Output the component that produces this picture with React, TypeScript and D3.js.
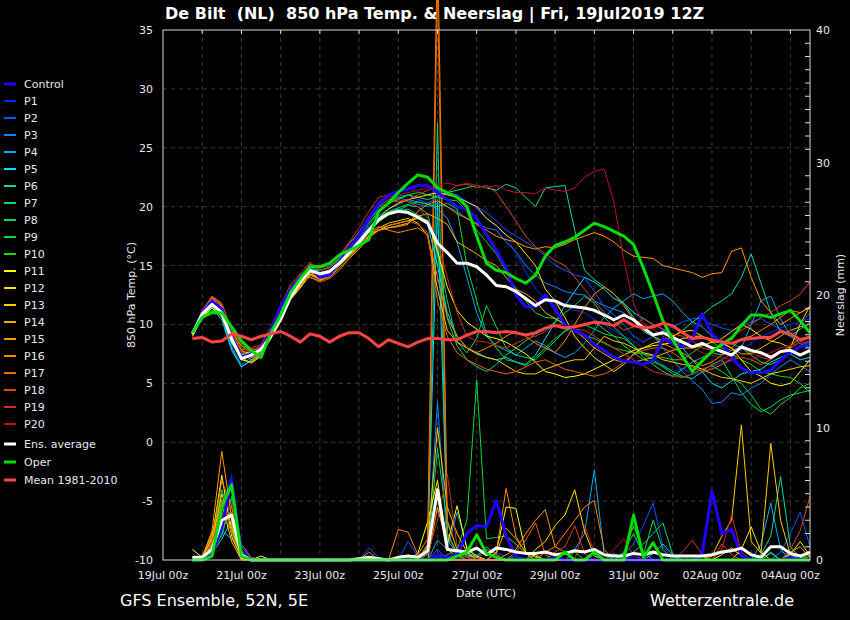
import * as d3 from "d3";

// hours after 19Jul 00z, 6-hourly from 19Jul 18z to 04Aug 12z
const hours = d3.range(18, 397, 6);
const dayHours = d3.range(24, 396, 24);
const labelHours = d3.range(0, 397, 48);
const dateLabels = ["19Jul 00z", "21Jul 00z", "23Jul 00z", "25Jul 00z", "27Jul 00z", "29Jul 00z", "31Jul 00z", "02Aug 00z", "04Aug 00z"];
const tempTicks = [-10, -5, 0, 5, 10, 15, 20, 25, 30, 35];
const rainTicks = [0, 10, 20, 30, 40];

const memberNames = ["Control", "P1", "P2", "P3", "P4", "P5", "P6", "P7", "P8", "P9", "P10", "P11", "P12", "P13", "P14", "P15", "P16", "P17", "P18", "P19", "P20"];
const memberColors = ["#2200ff", "#0028ff", "#0058ff", "#0088ff", "#00acf0", "#00dcff", "#00dc9c", "#00d878", "#00d858", "#00dc34", "#14dc00", "#ffff00", "#ffe000", "#ffcc00", "#ffaa00", "#ff9800", "#ff8400", "#ee6400", "#dd4414", "#cc3020", "#b81420"];

// 850 hPa temperature (°C)
const tempControl = [9.2, 11.0, 12.0, 11.3, 9.0, 7.2, 7.5, 7.9, 9.5, 11.5, 13.0, 14.0, 14.8, 14.0, 14.2, 15.3, 16.5, 17.5, 19.0, 20.2, 21.0, 21.3, 21.5, 21.8, 21.8, 21.2, 20.6, 20.0, 19.8, 19.0, 17.6, 16.3, 14.8, 12.5, 11.5, 11.5, 12.5, 11.3, 10.0, 9.5, 9.1, 8.3, 7.8, 7.2, 6.9, 6.8, 6.6, 7.0, 8.8, 8.4, 8.1, 8.7, 10.9, 9.2, 8.4, 7.2, 6.3, 5.9, 5.9, 6.1, 7.0, 7.6, 8.1, 8.4];
const tempP1 = [9.1, 11.0, 12.1, 11.3, 8.9, 7.0, 7.3, 7.9, 9.6, 11.4, 13.1, 14.2, 15.0, 14.3, 14.5, 15.6, 16.8, 17.9, 19.2, 20.4, 21.0, 21.2, 21.6, 21.3, 21.0, 21.4, 21.0, 20.8, 20.5, 19.8, 19.0, 18.3, 17.5, 16.0, 14.5, 13.0, 12.2, 11.5, 11.8, 11.2, 11.0, 10.4, 10.0, 9.5, 9.0, 8.6, 8.0, 7.2, 6.6, 6.0, 6.3, 5.8, 5.8, 6.4, 6.8, 7.0, 7.8, 8.4, 9.0, 9.3, 9.7, 10.0, 10.2, 10.5];
const tempP2 = [9.3, 10.9, 11.9, 11.2, 8.6, 7.4, 7.8, 8.2, 9.4, 11.1, 12.8, 13.8, 14.8, 14.4, 14.6, 15.4, 16.5, 17.6, 18.8, 19.9, 20.6, 20.9, 21.0, 20.6, 20.3, 20.8, 21.2, 21.0, 20.4, 20.0, 19.5, 18.8, 18.0, 17.5, 17.0, 16.5, 15.8, 15.0, 14.6, 14.2, 14.0, 12.8, 11.5, 10.8, 10.0, 9.0, 8.5, 9.0, 9.5, 9.8, 10.2, 10.5, 10.5, 10.0, 9.7, 9.5, 9.8, 10.2, 10.5, 10.0, 9.6, 9.2, 10.0, 11.0];
const tempP3 = [9.0, 10.6, 11.6, 10.9, 8.2, 6.6, 7.2, 7.8, 9.2, 10.9, 12.6, 13.4, 14.5, 14.6, 14.9, 15.7, 16.6, 17.3, 18.4, 19.6, 20.4, 20.8, 20.5, 20.2, 20.0, 20.3, 20.0, 19.6, 19.0, 18.6, 18.2, 18.0, 17.0, 16.2, 15.0, 14.2, 13.5, 13.2, 12.8, 12.6, 12.5, 12.0, 11.6, 11.3, 11.0, 10.3, 9.8, 9.0, 8.0, 7.0, 6.0, 5.2, 4.5, 3.3, 3.4, 4.2, 4.0, 4.6, 5.0, 5.8, 6.4, 7.0, 6.5, 6.0];
const tempP4 = [9.2, 10.7, 11.5, 10.6, 8.0, 6.4, 7.0, 7.7, 9.0, 10.7, 12.4, 13.6, 14.9, 14.8, 15.0, 15.5, 16.3, 17.2, 18.2, 19.2, 19.8, 20.2, 20.6, 20.4, 20.2, 19.8, 19.0, 17.0, 14.0, 11.0, 9.0, 8.2, 7.8, 7.4, 8.0, 8.6, 8.2, 7.6, 7.2, 7.6, 8.4, 9.5, 10.6, 11.4, 12.0, 12.6, 12.2, 12.4, 12.6, 12.0, 11.0, 10.2, 9.8, 9.0, 8.6, 8.4, 8.0, 10.0, 12.0, 12.4, 10.5, 9.0, 8.4, 8.0];
const tempP5 = [9.1, 10.6, 11.4, 10.4, 7.8, 6.4, 6.9, 7.6, 9.1, 10.8, 12.2, 13.2, 14.2, 14.0, 14.4, 15.1, 16.0, 16.8, 17.8, 18.9, 19.5, 19.8, 19.6, 19.2, 18.5, 15.0, 11.0, 9.0, 8.0, 7.6, 7.2, 7.0, 7.2, 6.8, 6.6, 7.4, 8.8, 10.2, 11.6, 12.8, 14.0, 13.6, 13.0, 12.2, 11.8, 11.0, 10.5, 10.0, 9.6, 9.0, 8.0, 7.0, 6.0, 5.0, 4.6, 5.2, 5.8, 6.0, 6.2, 6.8, 7.2, 7.5, 7.0, 7.2];
const tempP6 = [9.3, 10.9, 11.7, 11.1, 8.8, 7.6, 7.6, 8.1, 9.5, 11.2, 12.9, 13.9, 15.1, 14.9, 15.2, 15.9, 16.9, 17.8, 18.9, 19.7, 20.3, 20.6, 21.0, 20.8, 20.6, 20.9, 21.2, 21.4, 21.6, 21.8, 21.6, 21.4, 21.9, 21.6, 20.8, 20.0, 21.6, 21.7, 21.8, 18.0, 14.6, 13.8, 13.2, 12.6, 11.8, 10.6, 9.4, 9.0, 8.6, 9.0, 9.5, 10.2, 10.8, 11.5, 12.0, 12.6, 14.0, 16.0, 13.5, 11.0, 9.4, 9.0, 9.6, 10.2];
const tempP7 = [9.2, 10.8, 11.6, 10.8, 8.4, 7.2, 7.4, 7.9, 9.4, 11.0, 12.6, 13.5, 14.6, 14.2, 14.3, 15.0, 15.9, 16.9, 17.9, 18.8, 19.4, 19.7, 20.1, 20.0, 19.4, 16.0, 10.5, 8.2, 7.0, 6.4, 6.0, 6.6, 7.4, 8.0, 8.6, 9.2, 9.6, 10.2, 11.0, 11.6, 12.4, 11.8, 10.6, 9.8, 9.0, 8.2, 7.2, 6.6, 6.0, 5.6, 6.2, 6.8, 7.2, 7.6, 7.4, 7.8, 8.0, 7.4, 6.8, 6.6, 7.0, 7.6, 8.2, 8.6];
const tempP8 = [9.1, 10.8, 11.5, 10.9, 8.8, 7.4, 7.6, 7.8, 9.2, 10.9, 12.5, 13.4, 14.5, 14.1, 14.4, 15.2, 16.1, 16.9, 17.8, 18.7, 19.3, 19.6, 19.8, 19.3, 18.8, 16.5, 12.0, 8.5, 7.6, 8.8, 11.6, 9.8, 8.0, 7.4, 7.2, 7.0, 7.8, 8.6, 9.5, 9.8, 10.0, 10.2, 9.6, 9.0, 8.2, 7.6, 7.0, 6.8, 6.5, 6.0, 5.6, 5.4, 6.0, 6.6, 7.0, 5.6, 4.2, 3.2, 2.6, 3.0, 3.6, 4.0, 4.2, 4.4];
const tempP9 = [9.3, 10.7, 11.2, 10.9, 9.0, 7.9, 7.8, 8.0, 9.5, 11.1, 12.8, 13.7, 14.7, 14.4, 14.6, 15.4, 16.3, 17.0, 18.0, 19.0, 19.6, 19.9, 20.2, 20.4, 20.2, 20.0, 20.3, 19.8, 15.0, 12.0, 9.2, 8.0, 7.0, 6.8, 6.5, 7.2, 8.0, 8.8, 9.4, 9.8, 10.0, 9.6, 9.2, 9.0, 8.8, 8.2, 7.5, 7.0, 6.4, 5.8, 5.5, 5.8, 6.2, 6.5, 6.0, 5.4, 5.0, 4.0, 2.8, 2.4, 3.2, 3.8, 4.6, 5.0];
const tempP10 = [9.0, 10.5, 11.1, 11.0, 9.2, 8.2, 7.9, 7.7, 9.0, 10.6, 12.4, 13.5, 14.8, 14.6, 14.8, 15.6, 16.6, 17.5, 18.6, 19.6, 20.3, 20.7, 21.0, 21.2, 21.0, 20.8, 20.6, 20.5, 19.6, 18.0, 17.0, 16.0, 14.5, 13.0, 12.0, 11.0, 10.6, 10.5, 10.0, 9.4, 9.0, 8.8, 8.4, 8.0, 7.8, 7.6, 7.5, 7.3, 7.2, 7.0, 7.0, 7.6, 8.2, 8.5, 8.0, 7.5, 7.0, 6.6, 6.0, 5.8, 5.6, 5.5, 5.0, 4.2];
const tempP11 = [9.0, 10.6, 11.4, 10.7, 8.5, 7.0, 6.8, 7.4, 8.8, 10.4, 12.1, 13.1, 14.2, 13.9, 14.1, 15.0, 15.8, 16.6, 17.4, 18.0, 18.4, 18.6, 18.8, 19.0, 18.8, 16.2, 13.2, 11.2, 10.2, 9.6, 9.0, 8.8, 8.5, 8.0, 7.5, 6.8, 6.0, 5.8, 5.5, 5.6, 5.8, 6.2, 6.6, 7.0, 7.4, 7.8, 8.0, 8.2, 8.3, 8.5, 8.8, 9.0, 9.0, 8.6, 8.4, 8.0, 7.0, 6.0, 5.6, 5.0, 4.8, 5.0, 6.0, 7.0];
const tempP12 = [9.2, 10.9, 11.8, 11.2, 9.0, 7.8, 7.5, 7.8, 9.3, 10.8, 12.5, 13.4, 14.4, 14.2, 14.6, 15.3, 16.2, 17.0, 18.0, 19.0, 19.8, 20.3, 20.6, 20.8, 21.0, 21.2, 21.0, 20.8, 20.4, 20.0, 19.0, 18.4, 17.6, 17.0, 16.0, 15.0, 13.0, 12.0, 10.6, 9.0, 8.0, 7.2, 6.6, 6.0, 6.6, 7.5, 8.0, 8.4, 8.6, 9.0, 9.4, 9.5, 9.0, 8.5, 8.8, 9.4, 10.0, 9.6, 9.0, 8.6, 8.4, 8.0, 10.0, 11.6];
const tempP13 = [9.0, 10.6, 11.6, 11.0, 8.6, 7.2, 6.7, 7.3, 8.9, 10.5, 12.2, 13.3, 14.3, 14.0, 14.2, 15.0, 15.9, 16.6, 17.5, 18.2, 18.6, 18.8, 19.0, 18.6, 17.5, 13.0, 9.5, 8.5, 8.0, 7.5, 7.2, 7.0, 6.5, 6.0, 5.8, 5.8, 6.2, 6.5, 6.8, 7.0, 7.0, 8.0, 9.0, 8.6, 8.4, 8.0, 7.6, 7.4, 7.0, 6.8, 6.6, 6.5, 6.2, 5.8, 5.5, 5.4, 5.2, 5.0, 5.4, 5.8, 6.0, 6.2, 6.4, 6.5];
const tempP14 = [9.1, 10.9, 12.0, 11.4, 9.2, 7.8, 7.2, 7.6, 9.0, 10.6, 12.3, 13.2, 14.2, 13.8, 14.0, 14.8, 15.6, 16.4, 17.4, 18.0, 18.2, 18.4, 18.6, 19.2, 19.4, 19.0, 18.5, 17.0, 16.5, 16.0, 15.4, 15.0, 14.0, 13.0, 12.6, 12.0, 11.0, 10.5, 10.0, 9.5, 8.8, 8.0, 7.5, 7.0, 6.8, 6.8, 7.0, 7.2, 7.5, 7.8, 8.0, 8.0, 8.2, 8.5, 8.5, 8.0, 7.5, 7.5, 8.0, 8.5, 9.0, 9.5, 9.8, 10.0];
const tempP15 = [9.3, 11.2, 12.2, 11.5, 9.0, 7.6, 7.0, 7.4, 9.2, 10.9, 12.8, 13.8, 14.0, 13.7, 14.1, 15.0, 16.0, 16.8, 17.6, 18.0, 18.2, 18.3, 18.5, 19.6, 20.2, 20.5, 20.0, 19.4, 19.0, 18.5, 18.0, 17.5, 17.2, 17.0, 16.6, 16.4, 16.6, 16.5, 16.8, 17.2, 17.5, 17.8, 17.5, 17.0, 16.3, 15.8, 15.7, 15.6, 15.0, 14.8, 14.6, 14.4, 14.0, 14.3, 14.4, 16.2, 16.5, 14.0, 12.0, 11.0, 10.0, 10.5, 11.0, 11.5];
const tempP16 = [9.2, 11.0, 12.3, 11.6, 9.4, 8.2, 7.6, 7.8, 9.3, 11.2, 13.0, 13.9, 14.2, 13.9, 14.2, 15.0, 16.0, 16.9, 17.8, 18.3, 18.0, 17.8, 18.0, 18.2, 17.6, 14.0, 10.6, 9.0, 8.0, 7.6, 8.0, 8.4, 9.0, 9.4, 9.0, 8.4, 8.0, 7.6, 8.6, 10.0, 11.4, 12.6, 13.2, 12.6, 11.6, 10.4, 9.6, 9.0, 8.4, 8.0, 7.6, 7.0, 6.5, 6.8, 7.4, 8.0, 8.8, 9.0, 9.5, 10.0, 10.6, 11.2, 11.0, 11.4];
const tempP17 = [9.0, 11.1, 12.4, 11.8, 9.5, 8.4, 7.9, 7.9, 9.4, 11.3, 12.9, 13.6, 14.0, 13.6, 13.9, 14.6, 15.6, 16.6, 17.6, 18.2, 18.4, 18.6, 18.8, 18.5, 17.8, 12.0, 9.0, 7.6, 7.0, 6.6, 6.2, 6.0, 5.8, 6.0, 6.4, 6.8, 7.0, 6.6, 6.2, 6.0, 5.8, 5.6, 5.8, 6.2, 6.8, 7.4, 7.8, 8.0, 8.0, 7.6, 7.0, 6.4, 6.0, 6.2, 6.6, 7.0, 7.2, 7.0, 6.6, 7.0, 7.6, 8.2, 8.8, 9.0];
const tempP18 = [9.4, 11.2, 12.4, 11.7, 9.3, 8.0, 7.7, 8.1, 9.6, 11.5, 13.2, 14.2, 14.8, 14.0, 14.2, 15.1, 16.2, 17.4, 18.8, 20.0, 20.6, 20.4, 20.6, 21.0, 21.4, 21.6, 21.2, 21.8, 21.9, 21.6, 21.8, 21.2, 20.0, 18.8, 17.5, 16.6, 16.0, 15.4, 15.0, 14.0, 13.0, 12.0, 11.0, 10.2, 9.5, 9.8, 10.5, 10.0, 9.6, 9.2, 9.0, 8.6, 8.0, 7.8, 8.4, 9.0, 9.5, 10.0, 10.6, 11.0, 11.6, 12.0, 12.6, 13.6];
const tempP19 = [9.2, 10.8, 12.1, 11.4, 9.0, 7.8, 8.0, 8.3, 9.8, 11.6, 13.4, 14.3, 15.3, 14.6, 14.8, 15.8, 17.0, 18.2, 19.6, 20.8, 21.0, 20.6, 20.4, 20.0, 19.0, 17.0, 14.0, 11.0, 9.0, 8.6, 8.5, 8.2, 8.0, 8.4, 8.8, 9.0, 9.4, 10.0, 10.0, 9.6, 9.5, 9.0, 8.5, 8.0, 7.5, 7.0, 6.5, 6.0, 5.8, 5.6, 5.5, 5.8, 6.2, 6.5, 7.0, 7.5, 8.0, 7.6, 7.2, 7.0, 7.6, 8.0, 8.5, 9.0];
const tempP20 = [9.3, 11.0, 12.0, 11.3, 9.0, 7.6, 7.8, 8.2, 9.6, 11.3, 13.0, 14.0, 15.2, 14.8, 15.0, 15.8, 16.8, 17.8, 19.0, 20.2, 20.8, 21.0, 21.2, 21.4, 21.6, 21.8, 22.0, 21.8, 22.0, 21.8, 21.6, 21.8, 21.4, 21.2, 21.2, 21.1, 21.6, 21.4, 21.3, 21.6, 22.5, 23.0, 23.2, 20.4, 15.5, 11.8, 10.0, 9.6, 9.0, 8.6, 8.4, 8.0, 7.6, 7.4, 7.2, 7.0, 7.2, 7.0, 7.4, 7.6, 8.0, 8.2, 8.4, 8.6];
const tempAverage = [9.2, 10.9, 11.7, 11.0, 8.8, 7.1, 7.4, 7.9, 9.0, 10.4, 12.3, 13.6, 14.6, 14.3, 14.5, 15.2, 16.1, 17.0, 18.0, 18.9, 19.4, 19.6, 19.5, 19.1, 18.6, 16.9, 16.1, 15.2, 15.2, 14.9, 14.2, 13.3, 13.2, 12.8, 12.2, 11.6, 12.1, 12.0, 11.6, 11.5, 11.4, 11.2, 10.8, 10.4, 10.8, 10.4, 9.7, 9.1, 9.3, 8.9, 8.5, 8.1, 8.4, 8.0, 7.7, 7.4, 8.1, 7.8, 7.6, 7.2, 7.7, 7.8, 7.4, 7.8];
const tempOper = [9.3, 10.6, 11.0, 11.0, 9.8, 8.6, 7.8, 7.2, 9.3, 10.8, 12.7, 13.9, 14.9, 14.9, 15.2, 15.9, 16.3, 16.7, 17.2, 19.6, 20.3, 21.2, 22.0, 22.7, 22.5, 21.6, 21.2, 20.8, 20.0, 17.5, 15.2, 14.6, 14.4, 13.9, 13.5, 14.2, 15.8, 16.7, 17.0, 17.4, 18.0, 18.6, 18.3, 17.9, 17.5, 16.8, 14.8, 12.6, 10.3, 8.7, 7.3, 6.0, 6.9, 7.7, 8.3, 8.8, 9.9, 10.8, 10.8, 10.6, 10.9, 11.2, 10.3, 9.3];
const tempClimate = [8.8, 8.9, 8.5, 8.6, 9.2, 9.0, 8.7, 9.0, 9.2, 9.4, 9.0, 8.5, 9.2, 9.0, 8.5, 9.0, 9.3, 9.3, 8.8, 8.1, 8.7, 8.4, 8.1, 8.5, 8.8, 8.8, 8.7, 8.7, 9.1, 9.4, 9.4, 9.3, 9.4, 9.3, 9.1, 9.3, 9.7, 9.9, 9.7, 9.8, 10.0, 10.2, 10.1, 9.9, 10.4, 9.9, 9.7, 9.8, 10.1, 9.9, 9.3, 8.8, 8.9, 8.7, 8.5, 8.4, 8.7, 8.8, 8.9, 8.9, 9.4, 9.2, 8.7, 8.9];

// precipitation per 6 h (mm)
const rainControl = [0, 0, 0.4, 2.5, 6.0, 0.5, 0, 0, 0, 0, 0, 0, 0, 0, 0, 0, 0, 0, 0, 0, 0, 0, 0, 0, 0, 0.3, 0.2, 0.4, 2.0, 2.6, 2.5, 4.5, 1.8, 0.3, 0, 0, 0, 0.2, 0, 0, 0, 0, 0, 0, 0, 0, 0, 0, 0, 0, 0, 0, 0.4, 5.2, 2.0, 2.3, 0.3, 0, 0, 0, 0, 0.2, 0, 0];
const rainP1 = [0, 0.2, 0.6, 4.0, 6.4, 0.8, 0, 0, 0, 0, 0, 0, 0, 0, 0, 0, 0, 0, 0, 0, 0, 0, 0, 0, 0, 0.5, 0.3, 0, 0, 0.4, 0.8, 0.5, 0.3, 0, 0, 0, 0, 0, 0, 0, 0, 0, 0, 0, 0, 0.3, 0, 0, 0, 0, 0, 0, 0, 0, 0, 0, 0, 0, 0, 0, 0.6, 0.4, 0, 0];
const rainP2 = [0, 0, 0.8, 3.0, 4.2, 1.0, 0.1, 0, 0, 0, 0, 0, 0, 0, 0, 0, 0, 0, 0.9, 0.2, 0, 0, 1.4, 0.3, 0, 0.8, 0, 0, 0, 0, 0, 0, 0, 0, 0, 0, 0, 0, 0, 0, 0, 0, 0, 0, 0.4, 1.2, 2.6, 4.3, 1.0, 0.2, 0, 0, 0, 0, 0, 0, 0, 0, 0, 0, 0.6, 2.0, 3.6, 1.0];
const rainP3 = [0.1, 0.3, 1.2, 1.8, 4.6, 1.2, 0.2, 0, 0, 0, 0, 0, 0, 0, 0, 0, 0, 0, 0, 0, 0, 0, 0, 0, 0.4, 12.0, 1.0, 0.4, 0, 0, 0, 0, 0, 0.3, 0, 0, 0, 0, 0, 0, 0, 0, 0, 0.5, 0, 0, 0, 0, 0, 0, 0, 0, 0, 0, 0, 0, 0, 0, 0, 0, 0, 0, 0.4, 0];
const rainP4 = [0, 0.2, 1.0, 2.2, 1.6, 0.6, 0, 0, 0, 0, 0, 0, 0, 0, 0, 0, 0, 0, 0, 0, 0, 0, 0, 0, 0, 1.5, 0.8, 3.6, 1.0, 0.3, 0, 0, 0, 0, 0, 0, 0, 0, 0.5, 0.8, 2.0, 6.8, 0.4, 0, 0, 0, 0, 0, 0, 0, 0, 0, 0, 0, 0, 0, 0, 0, 1.2, 4.3, 0.8, 0, 0, 0];
const rainP5 = [0, 0, 0.5, 1.6, 3.0, 0.4, 0, 0, 0, 0, 0, 0, 0, 0, 0, 0, 0, 0, 0, 0, 0, 0, 0, 0, 0.8, 27.0, 2.0, 0.6, 0.4, 0.2, 0, 0, 0, 0, 0, 0, 0, 0, 0, 0, 0, 0, 0, 0, 0, 0, 0, 0.5, 1.2, 0.4, 0, 0, 0, 0, 0, 0, 0, 0, 0, 0.6, 0, 0, 0, 0];
const rainP6 = [0, 0.1, 0.9, 2.6, 3.6, 0.3, 0, 0, 0, 0, 0, 0, 0, 0, 0, 0, 0, 0, 0, 0, 0, 0, 0, 0, 0, 0, 0, 0.3, 0, 0, 0, 0, 0, 0, 0, 0, 0, 0, 0, 0, 0, 0, 0, 0, 0, 0, 0, 0, 0, 0, 0, 0, 0, 0, 0, 0, 0, 0, 0.4, 1.8, 6.3, 1.0, 0.2, 0];
const rainP7 = [0, 0, 0.6, 3.4, 2.2, 0.2, 0, 0, 0, 0, 0, 0, 0, 0, 0, 0, 0, 0, 0, 0, 0, 0, 0, 0, 1.0, 33.0, 1.5, 0.5, 0.2, 0, 0, 0, 0, 0, 0, 0, 0, 0, 0, 0, 0, 0, 0, 0, 0, 0.6, 1.2, 2.0, 2.8, 0.4, 0, 0, 0, 0, 0, 0, 0, 0, 0, 0, 0, 0, 0, 0];
const rainP8 = [0, 0.2, 1.4, 5.3, 3.0, 0.4, 0, 0, 0, 0, 0, 0, 0, 0, 0, 0, 0, 0, 0, 0, 0, 0, 0, 0, 0.5, 8.4, 2.8, 0.8, 0.5, 0.3, 1.0, 0.4, 0, 0, 0, 0, 0, 0, 0, 0, 0, 0, 0, 0, 0.6, 2.0, 0.4, 3.0, 0.8, 0, 0, 0, 0, 0, 0, 0, 0, 0, 0, 0, 0, 0.5, 0, 0];
const rainP9 = [0, 0, 0.4, 2.0, 4.8, 0.6, 0, 0, 0, 0, 0, 0, 0, 0, 0, 0, 0, 0, 0, 0, 0, 0, 0, 0, 0, 0, 0.4, 0.8, 3.0, 13.6, 1.6, 1.7, 1.8, 1.2, 0.5, 0, 0, 0, 0, 0, 0, 0, 0, 0, 0.5, 2.6, 0.6, 0, 0, 0, 0, 0, 0, 0, 0, 0, 0, 0, 0, 0.5, 0, 0, 0, 0];
const rainP10 = [0, 0.1, 0.8, 4.4, 2.6, 0.2, 0, 0, 0, 0, 0, 0, 0, 0, 0, 0, 0, 0, 0, 0, 0, 0, 0, 0, 0, 0, 0, 0, 0.6, 0.2, 0.8, 0.4, 0, 0, 0, 0.4, 0, 0, 0, 0.6, 0, 0, 0, 0, 0, 0, 0, 0, 0, 0, 0, 0, 0, 0, 0, 0, 0, 0, 0, 0, 0, 0, 0, 0.3, 0];
const rainP11 = [0.8, 0.2, 1.6, 6.4, 1.8, 0.1, 0, 0.3, 0, 0, 0, 0, 0, 0, 0, 0, 0, 0, 0, 0, 0, 0, 0, 0.5, 2.9, 6.0, 1.2, 4.1, 0.8, 0.3, 0, 0.6, 4.0, 3.9, 0.6, 0.3, 0, 0, 0, 0, 0, 0, 0, 0, 0, 0, 0, 0, 0, 0, 0, 0, 0, 0, 0.4, 0.9, 0.3, 0, 0, 0, 0, 0, 0, 0];
const rainP12 = [0.2, 0, 1.2, 5.0, 2.4, 0.3, 0, 0, 0, 0, 0, 0, 0, 0, 0, 0, 0, 0, 0, 0, 0, 0, 0, 0, 0, 0, 0, 0, 0, 0, 0, 0, 0, 0, 0, 0.8, 1.4, 2.6, 3.4, 5.3, 2.2, 0.3, 0, 0, 0, 0, 0, 0, 0, 0, 0, 0, 0, 0, 0, 0, 0.8, 2.5, 0.6, 0, 0, 0.4, 1.4, 0.3];
const rainP13 = [0, 0.3, 2.0, 4.2, 1.4, 0, 0, 0, 0, 0, 0, 0, 0, 0, 0, 0, 0, 0, 0, 0, 0, 0, 0, 0, 1.2, 10.0, 4.0, 2.0, 0.6, 0, 0, 0, 0, 0, 0, 0, 0, 0, 0, 0, 0, 0, 0, 0, 0, 0, 0, 0, 0, 0, 0, 0, 0, 0.3, 1.8, 3.0, 10.2, 1.4, 0.5, 8.8, 3.0, 0.4, 0, 0];
const rainP14 = [0, 0.1, 1.8, 3.6, 2.8, 0.2, 0, 0, 0, 0, 0, 0, 0, 0, 0, 0, 0, 0, 0, 0, 0, 0, 0, 0, 0, 4.0, 1.0, 0, 0, 0, 0, 0.5, 2.4, 1.6, 0.6, 0.2, 0, 0, 0, 0, 0, 0, 0, 0, 0, 0, 0, 0, 0, 0, 0, 0, 0.3, 0, 0, 0, 0, 0, 0, 0, 0, 0.6, 1.0, 0.2];
const rainP15 = [0, 0.2, 2.2, 8.2, 3.2, 0.4, 0, 0, 0, 0, 0, 0, 0, 0, 0, 0, 0, 0, 0, 0, 0, 0, 0, 0, 0, 0, 0, 0, 0, 0, 0, 0, 0.4, 0.8, 2.0, 3.0, 3.8, 1.0, 0.6, 0, 0, 0, 0, 0, 0, 0, 0, 0, 0, 0, 0, 0, 0, 0, 0, 0, 0, 0, 0, 0, 0, 0, 0, 0];
const rainP16 = [0, 0, 1.5, 6.0, 4.0, 0.6, 0, 0, 0, 0, 0, 0, 0, 0, 0, 0, 0, 0, 0.6, 0, 0, 2.3, 2.1, 0.4, 1.6, 47.0, 3.0, 0.8, 0.3, 0.2, 0, 0.6, 5.4, 1.8, 0.5, 0, 0.6, 1.0, 2.0, 3.0, 4.0, 4.5, 0.8, 0, 0, 0, 0, 0, 0, 0, 0, 0, 0, 0, 0, 0, 0, 0, 0, 0, 0, 0, 0, 0];
const rainP17 = [0, 0.2, 1.0, 4.6, 2.0, 0.3, 0, 0, 0, 0, 0, 0, 0, 0, 0, 0, 0, 0, 0, 0, 0, 0, 0, 0, 0.6, 43.0, 2.0, 0.4, 0, 0, 0, 0, 0, 0.6, 1.5, 2.8, 0.4, 0, 0, 0, 0, 0, 0, 0, 0, 0, 0, 0, 0, 0, 0, 0, 0, 0, 0, 0, 0, 0, 0, 0, 0, 0, 0, 0.5];
const rainP18 = [0, 0, 1.4, 3.4, 3.6, 0.5, 0, 0, 0, 0, 0, 0, 0, 0, 0, 0, 0, 0, 0, 0, 0, 0, 0, 0, 0, 0, 0, 0, 0, 0, 0, 0, 0, 0, 0, 0, 0, 0.6, 1.0, 2.6, 0.5, 0, 0, 0, 0, 0, 0, 0, 0, 0, 0, 0, 0.4, 0, 1.2, 0.4, 0, 0, 0, 0, 0, 0.8, 2.2, 4.8];
const rainP19 = [0, 0.1, 0.7, 2.8, 3.0, 1.0, 0.2, 0, 0, 0, 0, 0, 0, 0, 0, 0, 0, 0, 0, 0, 0, 0, 0, 0, 0.4, 3.0, 6.5, 1.0, 0.2, 0, 0.8, 0.4, 0, 0, 0, 0, 0, 0, 0, 0, 2.6, 0.6, 0, 0, 0, 0, 0, 0, 0, 0, 0.6, 1.5, 0.4, 0, 0.8, 3.4, 0.6, 0, 0, 0, 0, 0, 0, 0];
const rainP20 = [0, 0, 0.5, 2.4, 4.4, 0.7, 0, 0, 0, 0, 0, 0, 0, 0, 0, 0, 0, 0, 0, 0, 0, 0, 0, 0, 0, 0, 0, 0, 0, 0, 0, 0, 0, 0, 0, 0, 0, 0, 0, 0, 0, 0, 0, 0.8, 1.6, 0.4, 0, 0, 0, 0, 0, 0, 0, 0, 0, 0, 0, 0, 0, 0, 0, 0, 0, 0];
const rainAverage = [0.2, 0.2, 0.8, 3.0, 3.4, 0.4, 0, 0, 0, 0, 0, 0, 0, 0, 0, 0, 0, 0.1, 0.2, 0.1, 0, 0.2, 0.3, 0.2, 0.7, 5.3, 0.8, 0.7, 0.6, 0.9, 0.4, 0.9, 0.8, 0.6, 0.5, 0.5, 0.6, 0.4, 0.5, 0.7, 0.6, 0.8, 0.4, 0.3, 0.3, 0.5, 0.4, 0.6, 0.4, 0.3, 0.3, 0.3, 0.3, 0.4, 0.6, 0.7, 0.9, 0.4, 0.2, 1.0, 1.0, 0.5, 0.3, 0.6];
const rainOper = [0, 0, 0.3, 4.0, 5.7, 0.3, 0, 0, 0, 0, 0, 0, 0, 0, 0, 0, 0, 0, 0, 0, 0, 0, 0, 0, 0, 0, 0, 0.3, 0.6, 1.9, 0.5, 0.2, 0, 0, 0, 0, 0, 0, 0.6, 0, 0, 0.6, 0, 0, 0, 3.4, 0.2, 1.3, 0, 0, 0, 0, 0, 0, 0, 0, 0, 0, 0, 0, 0, 0, 0, 0];

const tempMembers = [tempControl, tempP1, tempP2, tempP3, tempP4, tempP5, tempP6, tempP7, tempP8, tempP9, tempP10, tempP11, tempP12, tempP13, tempP14, tempP15, tempP16, tempP17, tempP18, tempP19, tempP20];
const rainMembers = [rainControl, rainP1, rainP2, rainP3, rainP4, rainP5, rainP6, rainP7, rainP8, rainP9, rainP10, rainP11, rainP12, rainP13, rainP14, rainP15, rainP16, rainP17, rainP18, rainP19, rainP20];

const width = 850;
const height = 620;
const marginLeft = 163;
const marginRight = 40;
const marginTop = 30;
const marginBottom = 60;
const font = "DejaVu Sans, Verdana, sans-serif";

export default function App() {
  const x = d3.scaleLinear([0, 396], [marginLeft, width - marginRight]);
  const yT = d3.scaleLinear([-10, 35], [height - marginBottom, marginTop]);
  const yP = d3.scaleLinear([0, 40], [height - marginBottom, marginTop]);
  const lineT = d3.line<number>((d, i) => x(hours[i]), (d) => yT(d));
  const lineP = d3.line<number>((d, i) => x(hours[i]), (d) => yP(d));
  const x0 = x.range()[0], x1 = x.range()[1];
  const y0 = yT.range()[0], y1 = yT.range()[1];

  const legendRows = [
    ...memberNames.map((n, i) => ({ name: n, color: memberColors[i], thick: i === 0, y: 84 + i * 17 })),
    { name: "Ens. average", color: "#ffffff", thick: true, y: 444 },
    { name: "Oper", color: "#00dd00", thick: true, y: 462 },
    { name: "Mean 1981-2010", color: "#ff4444", thick: true, y: 480 },
  ];

  return (
    <svg width={width} height={height} style={{ position: "absolute", left: 0, top: 0, fontFamily: font }}>
      <rect width={width} height={height} fill="#000" />

      {/* grid */}
      <g stroke="#3a3a3a" strokeDasharray="4,4" strokeWidth={1}>
        {dayHours.map((h) => (
          <line key={"v" + h} x1={x(h)} x2={x(h)} y1={y1} y2={y0} />
        ))}
        {tempTicks.slice(1, -1).map((t) => (
          <line key={"h" + t} x1={x0} x2={x1} y1={yT(t)} y2={yT(t)} />
        ))}
      </g>

      {/* precipitation */}
      <g fill="none" strokeLinejoin="round">
        {rainMembers.map((r, i) =>
          i === 0 ? null : <path key={"r" + i} d={lineP(r) as string} stroke={memberColors[i]} strokeWidth={1} />
        )}
        <path d={lineP(rainControl) as string} stroke={memberColors[0]} strokeWidth={3} />
        <path d={lineP(rainAverage) as string} stroke="#ffffff" strokeWidth={3} />
        <path d={lineP(rainOper) as string} stroke="#00dd00" strokeWidth={3} />
      </g>

      {/* temperature */}
      <g fill="none" strokeLinejoin="round">
        {tempMembers.map((t, i) =>
          i === 0 ? null : <path key={"t" + i} d={lineT(t) as string} stroke={memberColors[i]} strokeWidth={1} />
        )}
        <path d={lineT(tempControl) as string} stroke={memberColors[0]} strokeWidth={3} />
        <path d={lineT(tempAverage) as string} stroke="#ffffff" strokeWidth={3} />
        <path d={lineT(tempOper) as string} stroke="#00dd00" strokeWidth={3} />
        <path d={lineT(tempClimate) as string} stroke="#ff4444" strokeWidth={3} />
      </g>

      {/* frame and ticks */}
      <rect x={x0} y={y1} width={x1 - x0} height={y0 - y1} fill="none" stroke="#d8d8d8" strokeWidth={1} />
      <g stroke="#d8d8d8" strokeWidth={1}>
        {dayHours.map((h) => (
          <line key={"tk" + h} x1={x(h)} x2={x(h)} y1={y1} y2={y1 + 4} />
        ))}
        {d3.range(1, 40).map((m) => (
          <line key={"mm" + m} x1={x1 - (m % 10 === 0 ? 0 : 5)} x2={x1} y1={yP(m)} y2={yP(m)} />
        ))}
      </g>

      {/* axis labels */}
      <g fill="#e8e8e8" fontSize={11}>
        {tempTicks.map((t) => (
          <text key={"yl" + t} x={x0 - 10} y={yT(t) + 4} textAnchor="end">{t}</text>
        ))}
        {rainTicks.map((r) => (
          <text key={"yr" + r} x={x1 + 6} y={yP(r) + 4}>{r}</text>
        ))}
        {labelHours.map((h, i) => (
          <text key={"xl" + h} x={x(h)} y={y0 + 19} textAnchor="middle">{dateLabels[i]}</text>
        ))}
        <text x={486} y={597} textAnchor="middle">Date (UTC)</text>
        <text transform={`translate(135,${(y0 + y1) / 2}) rotate(-90)`} textAnchor="middle">850 hPa Temp. (°C)</text>
        <text transform={`translate(844,${(y0 + y1) / 2}) rotate(-90)`} textAnchor="middle">Neerslag (mm)</text>
      </g>

      {/* title and footer */}
      <text x={165} y={19} fill="#ffffff" fontSize={16} fontWeight="bold" style={{ whiteSpace: "pre" }}>
        {"De Bilt  (NL)  850 hPa Temp. & Neerslag | Fri, 19Jul2019 12Z"}
      </text>
      <text x={120} y={606} fill="#ffffff" fontSize={16}>GFS Ensemble, 52N, 5E</text>
      <text x={650} y={606} fill="#ffffff" fontSize={16}>Wetterzentrale.de</text>

      {/* legend */}
      <g fontSize={11} fill="#e8e8e8">
        {legendRows.map((r) => (
          <g key={r.name}>
            <line x1={4} x2={16} y1={r.y} y2={r.y} stroke={r.color} strokeWidth={r.thick ? 3 : 2} />
            <text x={24} y={r.y + 4}>{r.name}</text>
          </g>
        ))}
      </g>
    </svg>
  );
}
